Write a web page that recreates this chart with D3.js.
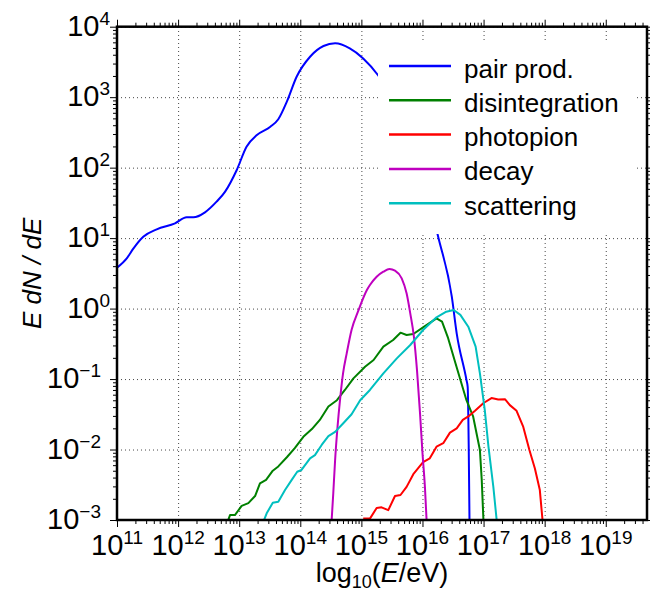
<!DOCTYPE html>
<html>
<head>
<meta charset="utf-8">
<script src="https://cdn.jsdelivr.net/npm/d3@7"></script>
<style>
  body { margin: 0; background: #fff; }
  svg { font-family: "Liberation Sans", Arial, sans-serif; }
  .ticklabel { font-family: "Liberation Sans Narrow", "Arial Narrow", "Liberation Sans", sans-serif; }
  .grid line { stroke: #333; stroke-width: 0.9; stroke-dasharray: 1,3; }
  .grid .domain, .axis .domain { display: none; }
  .axis line { stroke: #000; stroke-width: 1; }
  .series { fill: none; stroke-width: 2; stroke-linejoin: round; }
</style>
</head>
<body>
<svg width="650" height="598"></svg>
<script>
// values: log10(E/eV) and log10(E dN/dE)
const pairLogE = [11.0, 11.16, 11.27, 11.43, 11.65, 11.95, 12.14, 12.25, 12.44, 12.63, 12.77, 12.96, 13.12, 13.29,
  13.51, 13.64, 13.78, 13.94, 14.16, 14.38, 14.57, 14.81, 15.03, 15.27, 15.5, 15.75, 16.0, 16.25, 16.48, 16.56,
  16.72, 16.74, 16.757, 16.77];
const pairLogY = [0.58, 0.713, 0.855, 1.02, 1.125, 1.21, 1.295, 1.295, 1.366, 1.517, 1.66, 1.967, 2.297, 2.463,
  2.58, 2.686, 2.936, 3.29, 3.574, 3.726, 3.764, 3.693, 3.55, 3.315, 3.0, 2.6, 1.95, 1.044, 0.169, -0.351,
  -1.013, -1.11, -1.96, -3.05];

const disLogE = [12.8, 12.85, 12.93, 13.04, 13.15, 13.26, 13.34, 13.44, 13.55, 13.64, 13.78, 13.91, 14.05, 14.19,
  14.32, 14.46, 14.6, 14.73, 14.87, 15.06, 15.2, 15.36, 15.52, 15.64, 15.74, 15.85, 16.01, 16.23, 16.32, 16.42,
  16.54, 16.72, 16.83, 16.94, 16.97, 17.0];
const disLogY = [-3.05, -2.93, -2.93, -2.8, -2.76, -2.66, -2.48, -2.43, -2.3, -2.24, -2.11, -1.98, -1.82, -1.71,
  -1.58, -1.39, -1.3, -1.155, -0.99, -0.825, -0.73, -0.54, -0.446, -0.342, -0.375, -0.36, -0.266, -0.138, -0.186, -0.42,
  -0.777, -1.3, -1.534, -2.007, -2.43, -3.05];

const pionLogE = [15.03, 15.14, 15.25, 15.33, 15.44, 15.55, 15.64, 15.74, 15.85, 16.01, 16.12, 16.23, 16.34, 16.45,
  16.56, 16.66, 16.75, 16.86, 17.0, 17.13, 17.24, 17.35, 17.43, 17.54, 17.65, 17.75, 17.84, 17.92, 17.97];
const pionLogY = [-2.98, -2.98, -2.83, -2.82, -2.86, -2.66, -2.645, -2.53, -2.35, -2.18, -2.125, -1.96, -1.91, -1.76,
  -1.7, -1.58, -1.53, -1.45, -1.34, -1.27, -1.29, -1.285, -1.37, -1.45, -1.68, -2.007, -2.27, -2.57, -3.05];

const decayLogE = [14.51, 14.54, 14.57, 14.61, 14.65, 14.7, 14.76, 14.84, 14.95, 15.09, 15.14, 15.25, 15.36, 15.46,
  15.55, 15.66, 15.74, 15.8, 15.86, 15.91, 15.96, 16.0, 16.04, 16.07];
const decayLogY = [-3.05, -2.62, -2.15, -1.676, -1.3, -0.92, -0.635, -0.3, -0.03, 0.264, 0.335, 0.452, 0.523, 0.562,
  0.538, 0.43, 0.217, -0.067, -0.4, -0.87, -1.486, -2.05, -2.53, -3.05];

const scatLogE = [13.385, 13.45, 13.55, 13.64, 13.75, 13.86, 13.95, 14.02, 14.16, 14.24, 14.35, 14.46, 14.57, 14.7,
  14.84, 14.98, 15.14, 15.36, 15.58, 15.8, 16.01, 16.23, 16.39, 16.51, 16.62, 16.75, 16.87, 16.94, 17.02, 17.08,
  17.16, 17.22];
const scatLogY = [-3.05, -2.905, -2.755, -2.74, -2.575, -2.43, -2.315, -2.29, -2.125, -2.08, -1.935, -1.81, -1.75, -1.63,
  -1.5, -1.3, -1.155, -0.92, -0.706, -0.517, -0.304, -0.124, -0.044, -0.02, -0.09, -0.257, -0.54, -0.92, -1.44, -1.96,
  -2.53, -3.05];

const seriesNames = ['pair prod.', 'disintegration', 'photopion', 'decay', 'scattering'];
const seriesColors = ['#0000ff', '#008000', '#ff0000', '#bf00bf', '#00bfbf'];
const xExponents = [11, 12, 13, 14, 15, 16, 17, 18, 19];
const yExponents = [-3, -2, -1, 0, 1, 2, 3, 4];

const margin = {top: 26.7, right: 3, bottom: 78, left: 117};
const width = 650 - margin.left - margin.right;
const height = 598 - margin.top - margin.bottom;

const svg = d3.select('svg').append('g')
  .attr('transform', 'translate(' + margin.left + ',' + margin.top + ')');

const x = d3.scaleLog().domain([1e11, Math.pow(10, 19.675)]).range([0, width]);
const y = d3.scaleLog().domain([1e-3, 1e4]).range([height, 0]);

const xMajor = xExponents.map((k) => Math.pow(10, k));
const yMajor = yExponents.map((k) => Math.pow(10, k));
const minorOf = (exps, domain) => {
  const out = [];
  exps.forEach((k) => d3.range(2, 10).forEach((m) => {
    const v = m * Math.pow(10, k);
    if (v < domain[1]) out.push(v);
  }));
  return out;
};
const xMinor = minorOf(xExponents, x.domain());
const yMinor = minorOf(yExponents, y.domain());

// grid
svg.append('g').attr('class', 'grid')
  .attr('transform', 'translate(0,' + height + ')')
  .call(d3.axisBottom(x).tickValues(xMajor).tickSize(-height).tickFormat(''));
svg.append('g').attr('class', 'grid')
  .call(d3.axisLeft(y).tickValues(yMajor).tickSize(-width).tickFormat(''));

// series
const toPoints = (le, ly) => le.map((e, i) => [Math.pow(10, e), Math.pow(10, ly[i])]);
const seriesData = [
  toPoints(pairLogE, pairLogY),
  toPoints(disLogE, disLogY),
  toPoints(pionLogE, pionLogY),
  toPoints(decayLogE, decayLogY),
  toPoints(scatLogE, scatLogY)
];

svg.append('clipPath').attr('id', 'plot-clip')
  .append('rect').attr('width', width).attr('height', height);

const line = d3.line()
  .x((d) => x(d[0]))
  .y((d) => y(d[1]));

svg.append('g').attr('clip-path', 'url(#plot-clip)')
  .selectAll('path')
  .data(seriesData)
  .enter().append('path')
  .attr('class', 'series')
  .attr('stroke', (d, i) => seriesColors[i])
  .attr('d', (d, i) => (i === 0 || i === 3) ? line.curve(d3.curveMonotoneX)(d) : line.curve(d3.curveLinear)(d));

// ticks on all four sides, pointing out
const addTicks = (axisFn, scale, major, minor, transform) => {
  const g = svg.append('g').attr('class', 'axis').attr('transform', transform);
  g.append('g').call(axisFn(scale).tickValues(minor).tickSize(4).tickFormat(''));
  g.append('g').call(axisFn(scale).tickValues(major).tickSize(7).tickFormat(''));
};
addTicks(d3.axisBottom, x, xMajor, xMinor, 'translate(0,' + height + ')');
addTicks(d3.axisTop, x, xMajor, xMinor, 'translate(0,0)');
addTicks(d3.axisLeft, y, yMajor, yMinor, 'translate(0,0)');
addTicks(d3.axisRight, y, yMajor, yMinor, 'translate(' + width + ',0)');

// frame
svg.append('rect')
  .attr('width', width).attr('height', height)
  .attr('fill', 'none').attr('stroke', '#000').attr('stroke-width', 2.5);

// tick labels
const expText = (k) => (k < 0 ? '\u2212' + (-k) : '' + k);
svg.append('g').selectAll('text')
  .data(xExponents)
  .enter().append('text')
  .attr('class', 'ticklabel')
  .attr('x', (k) => x(Math.pow(10, k)))
  .attr('y', height + 35)
  .attr('text-anchor', 'middle')
  .attr('font-size', 29)
  .each(function(k) {
    const t = d3.select(this);
    t.append('tspan').text('10');
    t.append('tspan').attr('dy', -11).attr('font-size', 19).text(expText(k));
  });

svg.append('g').selectAll('text')
  .data(yExponents)
  .enter().append('text')
  .attr('class', 'ticklabel')
  .attr('x', (k) => (k < 0 ? -16 : -7))
  .attr('y', (k) => y(Math.pow(10, k)) + 9)
  .attr('text-anchor', 'end')
  .attr('font-size', 29)
  .each(function(k) {
    const t = d3.select(this);
    t.append('tspan').text('10');
    t.append('tspan').attr('dy', -11).attr('font-size', 19).text(expText(k));
  });

// axis labels
const xLabel = svg.append('text')
  .attr('x', width / 2)
  .attr('y', height + 62)
  .attr('text-anchor', 'middle')
  .attr('font-size', 27);
xLabel.append('tspan').text('log');
xLabel.append('tspan').attr('dy', 6).attr('font-size', 18).text('10');
xLabel.append('tspan').attr('dy', -6).text('(');
xLabel.append('tspan').attr('font-style', 'italic').text('E');
xLabel.append('tspan').text('/eV)');

svg.append('text')
  .attr('transform', 'translate(' + (41 - margin.left) + ',' + (height / 2) + ') rotate(-90)')
  .attr('text-anchor', 'middle')
  .attr('font-size', 26)
  .attr('font-style', 'italic')
  .text('E dN / dE');

// legend (opaque, no frame)
const legend = svg.append('g').attr('transform', 'translate(261,14.3)');
legend.append('rect')
  .attr('width', 257).attr('height', 193)
  .attr('fill', '#fff');
const items = legend.selectAll('g')
  .data(seriesNames)
  .enter().append('g')
  .attr('transform', (d, i) => 'translate(0,' + (25 + i * 34.3) + ')');
items.append('line')
  .attr('x1', 11).attr('x2', 73)
  .attr('stroke', (d, i) => seriesColors[i])
  .attr('stroke-width', 2.5);
items.append('text')
  .attr('x', 86).attr('y', 11.5)
  .attr('font-size', 26)
  .text((d) => d);
</script>
</body>
</html>
